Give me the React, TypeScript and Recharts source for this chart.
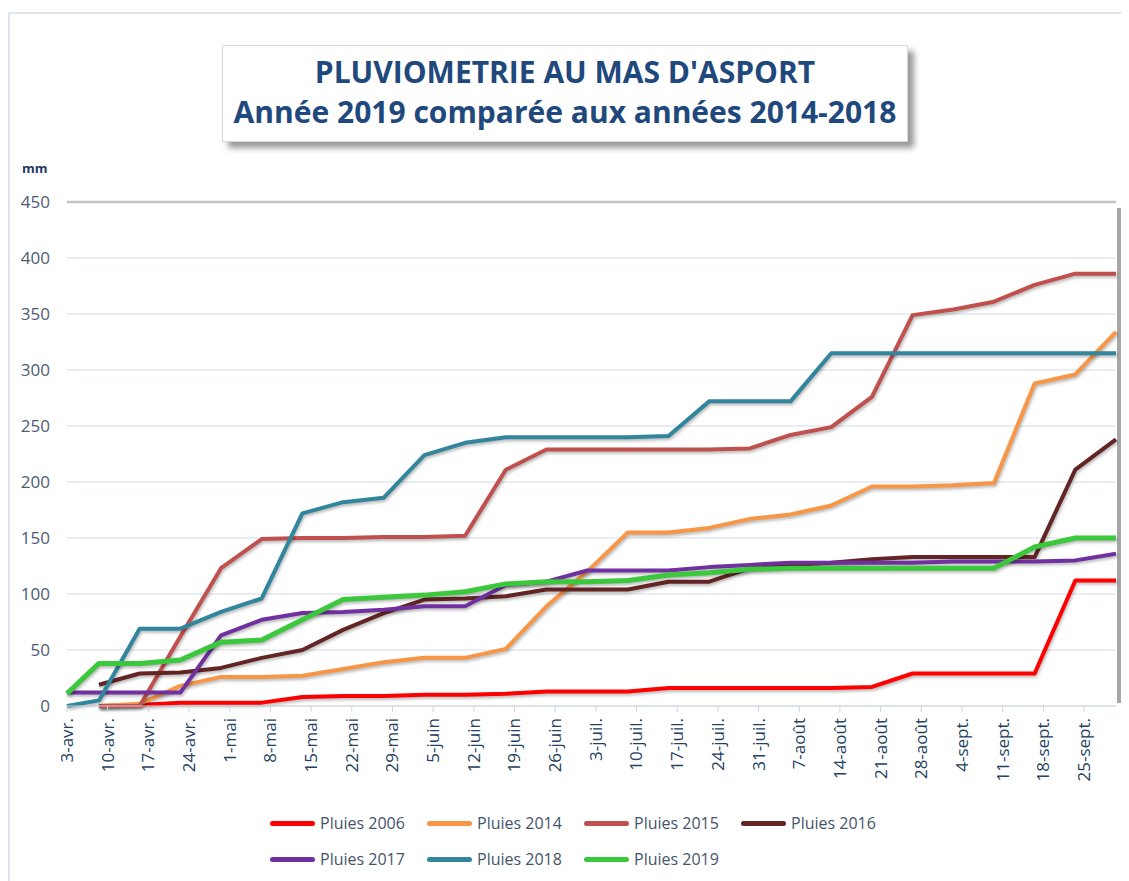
import React from "react";
import { LineChart, Line, XAxis, YAxis, CartesianGrid, ReferenceLine } from "recharts";

// weekly tick labels on the date axis (days counted from 3 April)
const tickDays = [0, 7, 14, 21, 28, 35, 42, 49, 56, 63, 70, 77, 84, 91, 98, 105, 112, 119, 126, 133, 140, 147, 154, 161, 168, 175];
const tickLabels = [
  "3-avr.", "10-avr.", "17-avr.", "24-avr.", "1-mai", "8-mai", "15-mai", "22-mai", "29-mai",
  "5-juin", "12-juin", "19-juin", "26-juin", "3-juil.", "10-juil.", "17-juil.", "24-juil.", "31-juil.",
  "7-août", "14-août", "21-août", "28-août", "4-sept.", "11-sept.", "18-sept.", "25-sept.",
];

// measurement days (days after 3 April)
const days = [0, 5.5, 12.5, 19.5, 26.5, 33.5, 40.5, 47.5, 54.5, 61.5, 68.5, 75.5, 82.5, 89.5, 96.5, 103.5, 110.5, 117.5, 124.5, 131.5, 138.5, 145.5, 152.5, 159.5, 166.5, 173.5, 180.5];

// cumulative rainfall, mm
const pluies2006 = [null, 0, 1, 3, 3, 3, 8, 9, 9, 10, 10, 11, 13, 13, 13, 16, 16, 16, 16, 16, 17, 29, 29, 29, 29, 112, 112];
const pluies2014 = [null, 0, 2, 18, 26, 26, 27, 33, 39, 43, 43, 51, 89, 120, 155, 155, 159, 167, 171, 179, 196, 196, 197, 199, 288, 296, 334];
const pluies2015 = [null, 0, 0, 62, 123, 149, 150, 150, 151, 151, 152, 211, 229, 229, 229, 229, 229, 230, 242, 249, 276, 349, 354, 361, 376, 386, 386];
const pluies2016 = [null, 19, 29, 30, 34, 43, 50, 68, 83, 95, 96, 98, 104, 104, 104, 111, 111, 123, 126, 128, 131, 133, 133, 133, 133, 211, 238];
const pluies2017 = [12, 12, 12, 12, 63, 77, 83, 84, 86, 89, 89, 108, 111, 121, 121, 121, 124, 126, 128, 128, 128, 128, 129, 129, 129, 130, 136];
const pluies2018 = [0, 5, 69, 69, 84, 96, 172, 182, 186, 224, 235, 240, 240, 240, 240, 241, 272, 272, 272, 315, 315, 315, 315, 315, 315, 315, 315];
const pluies2019 = [11, 38, 38, 41, 57, 59, 77, 95, 97, 99, 102, 109, 111, 111, 112, 117, 119, 122, 123, 123, 123, 123, 123, 123, 142, 150, 150];

const yTicks = [0, 50, 100, 150, 200, 250, 300, 350, 400, 450];

const SERIES = [
  { key: "p2006", name: "Pluies 2006", color: "#FF0000", values: pluies2006, width: 4 },
  { key: "p2014", name: "Pluies 2014", color: "#F79646", values: pluies2014, width: 4 },
  { key: "p2015", name: "Pluies 2015", color: "#C0504D", values: pluies2015, width: 4 },
  { key: "p2016", name: "Pluies 2016", color: "#632523", values: pluies2016, width: 4 },
  { key: "p2017", name: "Pluies 2017", color: "#7030A0", values: pluies2017, width: 4 },
  { key: "p2018", name: "Pluies 2018", color: "#31859C", values: pluies2018, width: 4 },
  { key: "p2019", name: "Pluies 2019", color: "#3CC83C", values: pluies2019, width: 5 },
];

const data = days.map((d, i) => {
  const row: Record<string, number | null> = { day: d };
  SERIES.forEach((s) => (row[s.key] = s.values[i]));
  return row;
});

const FONT = "'Open Sans', 'DejaVu Sans', sans-serif";

function DateTick({ x, y, payload }: any) {
  const label = tickLabels[tickDays.indexOf(payload.value)];
  return (
    <text x={x} y={y} dy="0.35em" textAnchor="end" transform={`rotate(-90, ${x}, ${y})`}
      fill="#243F60" fontSize={17} fontFamily={FONT}>
      {label}
    </text>
  );
}

function FrameEdge(props: any) {
  const { x1, y1, y2 } = props;
  return <line x1={x1 + 3} x2={x1 + 3} y1={y1 - 3} y2={y2 + 6} stroke="#A6A6A6" strokeWidth={4} />;
}

function LegendRows() {
  return (
    <div style={{ position: "absolute", left: 262, top: 803, width: 640, display: "flex", flexWrap: "wrap", rowGap: 12 }}>
      {SERIES.map((s) => (
        <div key={s.key} style={{ width: 157, display: "flex", alignItems: "center", height: 24 }}>
          <span style={{ width: 45, height: 5, borderRadius: 3, background: s.color, marginRight: 5, flexShrink: 0 }} />
          <span style={{ fontFamily: FONT, fontSize: 16, color: "#44546A", whiteSpace: "nowrap" }}>{s.name}</span>
        </div>
      ))}
    </div>
  );
}

export default function App() {
  return (
    <div style={{ position: "relative", width: 1121, height: 873, overflow: "hidden", background: "#fff" }}>
      <div style={{ position: "absolute", left: 0, top: 4, width: 2000, height: 2000, borderLeft: "2px solid #DCE6F2", borderTop: "2px solid #DCE6F2" }} />

      <LineChart width={1121} height={800} data={data} margin={{ top: 194, right: 13, left: 0, bottom: 0 }}>
        <CartesianGrid vertical={false} stroke="#E3E8F1" strokeWidth={1.5} />
        <XAxis dataKey="day" type="number" domain={[0, 180.5]} ticks={tickDays} interval={0}
          height={102} tick={<DateTick />} tickSize={6} tickMargin={6}
          stroke="#D0D5DD" tickLine={{ stroke: "#D0D5DD" }} />
        <YAxis domain={[0, 450]} ticks={yTicks} width={59} axisLine={false} tickLine={false}
          tickSize={0} tickMargin={17} tick={{ fontSize: 17, fill: "#4A5D75", fontFamily: FONT }} />
        <ReferenceLine y={450} stroke="#C4C4C4" strokeWidth={2.5} />
        <ReferenceLine x={180.5} shape={<FrameEdge />} />
        {SERIES.map((s) => (
          <Line key={s.key} dataKey={s.key} name={s.name} stroke={s.color} strokeWidth={s.width}
            dot={false} activeDot={false} type="linear" isAnimationActive={false} strokeLinejoin="round"
            style={{ filter: "drop-shadow(1px 2px 1.5px rgba(0,0,0,0.28))" }} />
        ))}
      </LineChart>

      <div style={{
        position: "absolute", left: 214, top: 37, width: 684, height: 95, background: "#fff",
        border: "1px solid #D9D9D9", boxShadow: "6px 6px 6px rgba(0,0,0,0.4)",
        display: "flex", flexDirection: "column", justifyContent: "center", alignItems: "center",
        fontFamily: FONT, fontWeight: 700, color: "#1F497D", lineHeight: "40px",
      }}>
        <div style={{ fontSize: 30, marginTop: -4 }}>PLUVIOMETRIE AU MAS D'ASPORT</div>
        <div style={{ fontSize: 30 }}>Année 2019 comparée aux années 2014-2018</div>
      </div>

      <div style={{ position: "absolute", left: 14, top: 151, fontFamily: FONT, fontWeight: 700, fontSize: 13, color: "#1F3864" }}>mm</div>

      <LegendRows />
    </div>
  );
}
